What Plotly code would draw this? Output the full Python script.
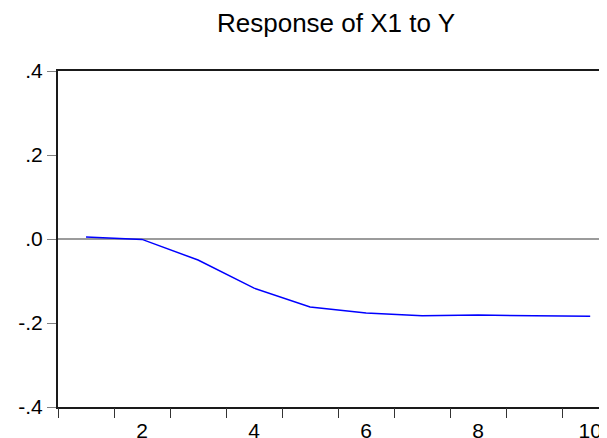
import plotly.graph_objects as go

periods = [1, 2, 3, 4, 5, 6, 7, 8, 9, 10]
response = [0.005, -0.001, -0.050, -0.117, -0.162, -0.176, -0.183, -0.181, -0.183, -0.184]
y_ticks = [-0.4, -0.2, 0.0, 0.2, 0.4]
y_labels = ["-.4", "-.2", ".0", ".2", ".4"]
x_label_vals = [2, 4, 6, 8, 10]
x_labels = ["2", "4", "6", "8", "10"]
x_minor = [0.5, 1.5, 2.5, 3.5, 4.5, 5.5, 6.5, 7.5, 8.5, 9.5]

FONT = "Liberation Sans, Arial, sans-serif"

fig = go.Figure()
fig.add_trace(go.Scatter(x=periods, y=response, mode="lines",
                         line=dict(color="#0000ff", width=1.5),
                         showlegend=False, hoverinfo="skip"))
fig.add_trace(go.Scatter(x=[periods[0]], y=[response[0]], xaxis="x2", mode="markers",
                         marker=dict(opacity=0), showlegend=False, hoverinfo="skip"))

fig.add_hline(y=0, line=dict(color="#7a7a7a", width=1.3), layer="below")

# page body has an 8px default margin, so the figure is offset by (8, 8)
fig.update_layout(
    width=599, height=430,
    margin=dict(l=50, r=0, t=63, b=31, autoexpand=False),
    paper_bgcolor="white", plot_bgcolor="white",
    font=dict(family=FONT, color="black", size=21),
    title=dict(text="Response of X1 to Y", x=328/599, xanchor="center",
               xref="container", y=1 - 15/430, yref="container", yanchor="middle",
               font=dict(family=FONT, size=26, color="black")),
    xaxis=dict(range=[0.5, 10.30], showgrid=False, zeroline=False, automargin=False,
               tickvals=x_label_vals, ticktext=x_labels, ticks="",
               ticklabelstandoff=4,
               showline=True, linecolor="#1a1a1a", linewidth=2, mirror=True,
               tickfont=dict(size=21)),
    xaxis2=dict(range=[0.5, 10.30], overlaying="x", side="bottom", showgrid=False,
                zeroline=False, tickvals=x_minor, showticklabels=False, automargin=False,
                ticks="outside", ticklen=10, tickwidth=1, tickcolor="#333333",
                showline=False),
    yaxis=dict(range=[-0.4, 0.4], showgrid=False, zeroline=False, automargin=False,
               tickvals=y_ticks, ticktext=y_labels, ticks="outside",
               ticklen=9, tickwidth=1, tickcolor="#808080",
               showline=True, linecolor="#1a1a1a", linewidth=2, mirror=False,
               tickfont=dict(size=21)),
)

fig.write_html("out.html")
